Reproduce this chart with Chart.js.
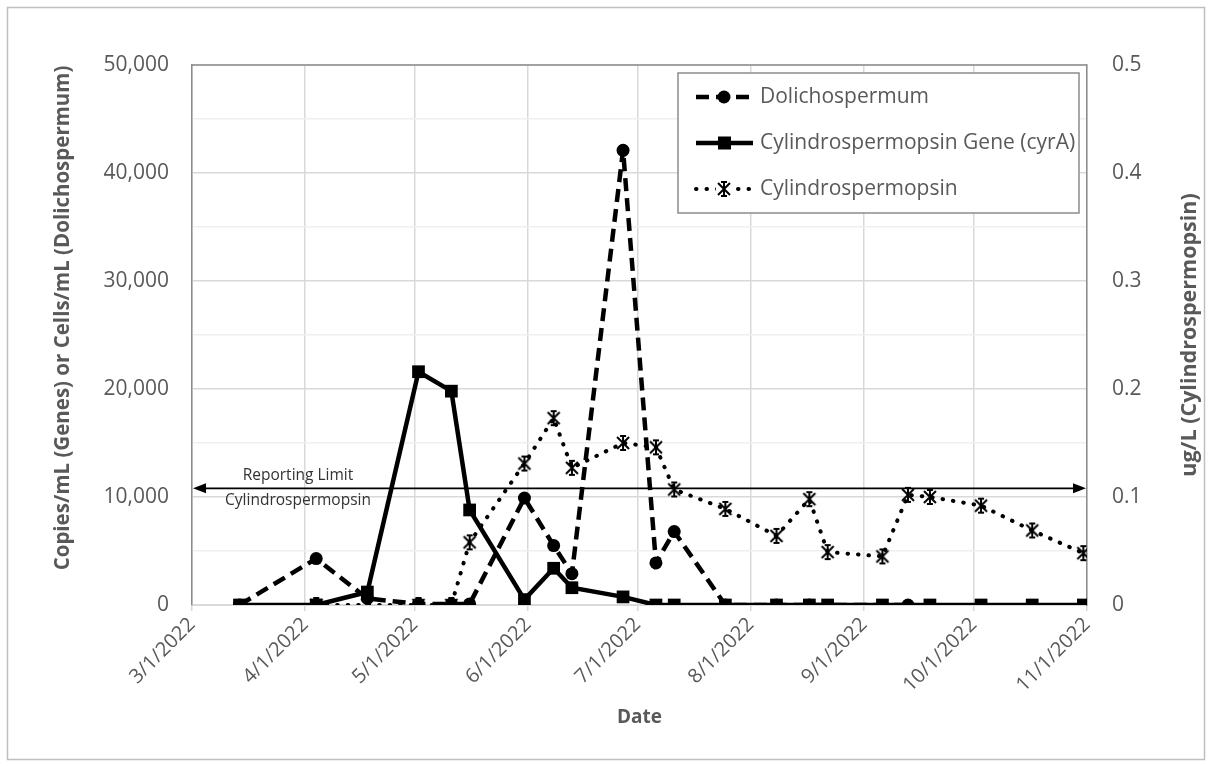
<!DOCTYPE html>
<html>
<head>
<meta charset="utf-8">
<script src="https://cdn.jsdelivr.net/npm/chart.js@4.4.1/dist/chart.umd.min.js"></script>
<style>
  html, body { margin: 0; padding: 0; background: #fff; }
  #wrap { width: 1212px; height: 766px; position: relative; }
</style>
</head>
<body>
<div id="wrap"><canvas id="chart"></canvas></div>
<script>
// x axis ticks (month starts)
const tickLabels = ['3/1/2022', '4/1/2022', '5/1/2022', '6/1/2022', '7/1/2022',
                    '8/1/2022', '9/1/2022', '10/1/2022', '11/1/2022'];

// Dolichospermum, cells/mL
const dolichoDates  = ['3/14/2022', '4/4/2022', '4/18/2022', '5/2/2022', '5/11/2022', '5/16/2022',
                       '5/31/2022', '6/8/2022', '6/13/2022', '6/27/2022', '7/6/2022', '7/11/2022',
                       '7/25/2022', '8/8/2022', '8/17/2022', '9/13/2022'];
const dolichoValues = [0, 4300, 600, 100, 100, 100,
                       9900, 5500, 2900, 42100, 3900, 6800,
                       0, 0, 0, 0];

// Cylindrospermopsin gene (cyrA), copies/mL
const geneDates  = ['3/14/2022', '4/4/2022', '4/18/2022', '5/2/2022', '5/11/2022', '5/16/2022', '5/31/2022',
                    '6/8/2022', '6/13/2022', '6/27/2022', '7/6/2022', '7/11/2022', '7/25/2022',
                    '8/8/2022', '8/17/2022', '8/22/2022', '9/6/2022', '9/19/2022', '10/3/2022',
                    '10/17/2022', '10/31/2022'];
const geneValues = [0, 0, 1200, 21600, 19800, 8800, 500,
                    3400, 1600, 750, 0, 0, 0,
                    0, 0, 0, 0, 0, 0,
                    0, 0];

// Cylindrospermopsin toxin, ug/L
const toxinDates  = ['4/4/2022', '4/18/2022', '5/2/2022', '5/11/2022', '5/16/2022', '5/31/2022',
                     '6/8/2022', '6/13/2022', '6/27/2022', '7/6/2022', '7/11/2022', '7/25/2022',
                     '8/8/2022', '8/17/2022', '8/22/2022', '9/6/2022', '9/13/2022', '9/19/2022',
                     '10/3/2022', '10/17/2022', '10/31/2022'];
const toxinValues = [0, 0, 0, 0, 0.058, 0.131,
                     0.173, 0.127, 0.150, 0.146, 0.107, 0.089,
                     0.064, 0.098, 0.049, 0.045, 0.102, 0.100,
                     0.092, 0.069, 0.048];

const reportingLimit = 0.108; // ug/L

const FONT = "'Open Sans', sans-serif";
const GREY = '#595959';

// days since 3/1/2022
const toDay = s => {
    const [m, d, y] = s.split('/').map(Number);
    return (Date.UTC(y, m - 1, d) - Date.UTC(2022, 2, 1)) / 86400000;
};
const tickDays = tickLabels.map(toDay);
const pts = (dates, vals) => dates.map((d, i) => ({ x: toDay(d), y: vals[i] }));

// asterisk marker like Excel's star
const star = document.createElement('canvas');
star.width = 18; star.height = 18;
(() => {
    const c = star.getContext('2d');
    c.strokeStyle = '#000'; c.lineWidth = 2;
    c.beginPath();
    c.moveTo(3, 3); c.lineTo(15, 15);
    c.moveTo(15, 3); c.lineTo(3, 15);
    c.moveTo(9, 2); c.lineTo(9, 16);
    c.moveTo(6, 2); c.lineTo(12, 2);
    c.moveTo(6, 16); c.lineTo(12, 16);
    c.stroke();
})();

const frame = {
    id: 'frame',
    beforeDraw(chart) {
        const ctx = chart.ctx;
        ctx.save();
        ctx.fillStyle = '#fff';
        ctx.fillRect(0, 0, chart.width, chart.height);
        ctx.strokeStyle = '#bfbfbf';
        ctx.lineWidth = 1.5;
        ctx.strokeRect(7.5, 7.5, 1197, 752);
        ctx.restore();
    },
    beforeDatasetsDraw(chart) {
        const ctx = chart.ctx;
        const { left, right, top, bottom } = chart.chartArea;
        const y = chart.scales.y1.getPixelForValue(reportingLimit);
        ctx.save();
        // plot top border
        ctx.strokeStyle = '#8c8c8c'; ctx.lineWidth = 1.5;
        ctx.beginPath(); ctx.moveTo(left, top); ctx.lineTo(right, top); ctx.stroke();
        // axis titles, reading bottom to top
        const vtitle = (text, x, cy, size) => {
            ctx.save();
            ctx.translate(x, cy);
            ctx.rotate(-Math.PI / 2);
            ctx.font = 'bold ' + size + 'px ' + FONT;
            ctx.fillStyle = GREY;
            ctx.textAlign = 'center'; ctx.textBaseline = 'middle';
            ctx.fillText(text, 0, 0);
            ctx.restore();
        };
        vtitle('Copies/mL (Genes) or Cells/mL (Dolichospermum)', 63, 318, 20.5);
        vtitle('ug/L (Cylindrospermopsin)', 1190, (top + bottom) / 2, 21.5);
        // reporting limit double arrow
        ctx.strokeStyle = '#000'; ctx.fillStyle = '#000'; ctx.lineWidth = 1.8;
        ctx.beginPath(); ctx.moveTo(left + 8, y); ctx.lineTo(right - 8, y); ctx.stroke();
        ctx.beginPath(); ctx.moveTo(left + 1, y); ctx.lineTo(left + 14, y - 5); ctx.lineTo(left + 14, y + 5); ctx.fill();
        ctx.beginPath(); ctx.moveTo(right - 1, y); ctx.lineTo(right - 14, y - 5); ctx.lineTo(right - 14, y + 5); ctx.fill();
        ctx.font = '15.5px ' + FONT;
        ctx.fillStyle = '#333';
        ctx.textAlign = 'center'; ctx.textBaseline = 'middle';
        ctx.fillText('Reporting Limit', left + 106, y - 13);
        ctx.fillText('Cylindrospermopsin', left + 106, y + 12);
        ctx.restore();
    },
    afterDraw(chart) {
        const ctx = chart.ctx;
        const x0 = 678, y0 = 73, w = 401, h = 140;
        ctx.save();
        ctx.fillStyle = '#fff';
        ctx.fillRect(x0, y0, w, h);
        ctx.strokeStyle = '#8c8c8c'; ctx.lineWidth = 1.5;
        ctx.strokeRect(x0, y0, w, h);
        const rows = [97, 143, 189];
        chart.data.datasets.forEach((ds, i) => {
            const y = rows[i];
            ctx.strokeStyle = '#000';
            ctx.lineWidth = ds.borderWidth;
            ctx.lineCap = ds.borderCapStyle || 'butt';
            ctx.setLineDash(ds.borderDash || []);
            ctx.beginPath(); ctx.moveTo(696, y); ctx.lineTo(753, y); ctx.stroke();
            ctx.setLineDash([]);
            ctx.fillStyle = '#000';
            if (ds.pointStyle === 'circle') {
                ctx.beginPath(); ctx.arc(724, y, 6.5, 0, Math.PI * 2); ctx.fill();
            } else if (ds.pointStyle === 'rect') {
                ctx.fillRect(718, y - 6.5, 13, 13);
            } else {
                ctx.fillStyle = '#fff'; ctx.fillRect(716, y - 9, 18, 18);
                ctx.drawImage(star, 715, y - 9);
            }
            ctx.font = '21px ' + FONT;
            ctx.fillStyle = GREY;
            ctx.textAlign = 'left'; ctx.textBaseline = 'middle';
            ctx.fillText(ds.label, 760, y);
        });
        ctx.restore();
    }
};

new Chart(document.getElementById('chart'), {
    type: 'line',
    data: {
        datasets: [
            {
                label: 'Dolichospermum',
                data: pts(dolichoDates, dolichoValues),
                yAxisID: 'y',
                borderColor: '#000', backgroundColor: '#000',
                borderWidth: 4.5, borderDash: [13, 7],
                pointStyle: 'circle', pointRadius: 6.5, pointBorderWidth: 0,
                order: 3
            },
            {
                label: 'Cylindrospermopsin Gene (cyrA)',
                data: pts(geneDates, geneValues),
                yAxisID: 'y',
                borderColor: '#000', backgroundColor: '#000',
                borderWidth: 4.5,
                pointStyle: 'rect', pointRadius: 9, pointBorderWidth: 0,
                order: 2
            },
            {
                label: 'Cylindrospermopsin',
                data: pts(toxinDates, toxinValues),
                yAxisID: 'y1',
                borderColor: '#000', backgroundColor: '#000',
                borderWidth: 4, borderDash: [0.5, 10], borderCapStyle: 'round',
                pointStyle: star, pointRadius: 9,
                order: 1
            }
        ]
    },
    options: {
        responsive: true,
        maintainAspectRatio: false,
        animation: false,
        layout: { padding: { left: 52, top: 65, right: 11, bottom: 37 } },
        plugins: { legend: { display: false }, tooltip: { enabled: false } },
        elements: { line: { tension: 0 } },
        scales: {
            x: {
                type: 'linear',
                min: tickDays[0],
                max: tickDays[tickDays.length - 1],
                afterBuildTicks: s => { s.ticks = tickDays.map(v => ({ value: v })); },
                afterFit: s => { s.height = 124; },
                ticks: {
                    autoSkip: false, minRotation: 45, maxRotation: 45,
                    color: GREY, font: { family: FONT, size: 20 }, padding: 2,
                    callback: v => tickLabels[tickDays.indexOf(v)]
                },
                grid: { color: '#d9d9d9', lineWidth: 1.5, tickLength: 6 },
                border: { color: '#d9d9d9' },
                title: {
                    display: true, text: 'Date', color: GREY, padding: 0,
                    font: { family: FONT, size: 19, weight: 'bold' }
                }
            },
            y: {
                position: 'left',
                min: 0, max: 50000,
                afterFit: s => { s.width = 140; },
                ticks: {
                    stepSize: 5000, color: GREY, padding: 23,
                    font: { family: FONT, size: 21 },
                    callback: v => v % 10000 === 0 ? v.toLocaleString('en-US') : ''
                },
                grid: {
                    drawTicks: false, lineWidth: 1.5,
                    color: c => c.tick && c.tick.value % 10000 === 0 ? '#d9d9d9' : '#f0f0f0'
                },
                border: { color: '#8c8c8c', width: 1.5 },
                title: { display: false }
            },
            y1: {
                position: 'right',
                min: 0, max: 0.5,
                afterFit: s => { s.width = 114; },
                ticks: {
                    stepSize: 0.1, color: GREY, padding: 25,
                    font: { family: FONT, size: 21 }
                },
                grid: { display: false, drawTicks: false },
                border: { color: '#8c8c8c', width: 1.5 },
                title: { display: false }
            }
        }
    },
    plugins: [frame]
});
</script>
</body>
</html>
